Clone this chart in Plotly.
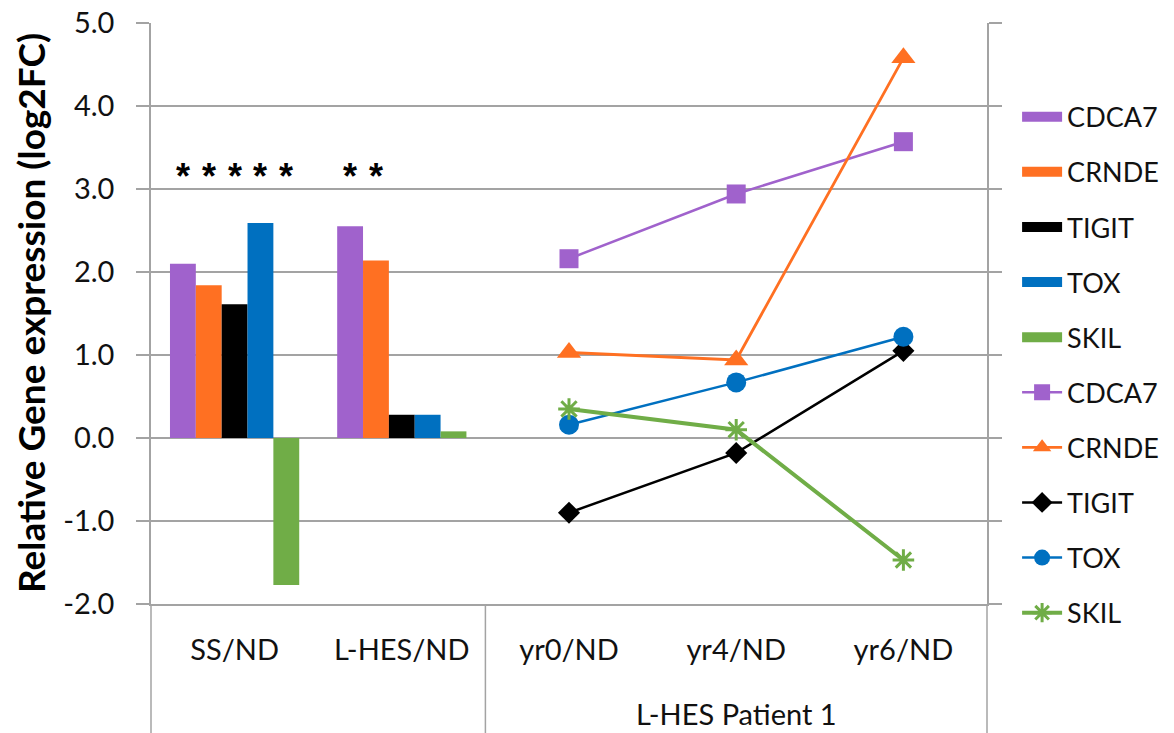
import plotly.graph_objects as go

genes = ["CDCA7", "CRNDE", "TIGIT", "TOX", "SKIL"]
colors = ["#A062CC", "#FF7022", "#000000", "#0070C0", "#70AD47"]

categories = ["SS/ND", "L-HES/ND", "yr0/ND", "yr4/ND", "yr6/ND"]
bar_cats = ["SS/ND", "L-HES/ND"]
bar_values = {
    "CDCA7": [2.10, 2.55],
    "CRNDE": [1.84, 2.14],
    "TIGIT": [1.61, 0.28],
    "TOX":   [2.59, 0.28],
    "SKIL":  [-1.77, 0.08],
}

group_label = "L-HES Patient 1"
line_cats = ["yr0/ND", "yr4/ND", "yr6/ND"]
line_values = {
    "CDCA7": [2.16, 2.94, 3.57],
    "CRNDE": [1.03, 0.94, 4.58],
    "TIGIT": [-0.90, -0.18, 1.05],
    "TOX":   [0.16, 0.67, 1.22],
    "SKIL":  [0.35, 0.10, -1.47],
}
symbols = ["square", "triangle-up", "diamond", "circle", "asterisk-open"]
msizes = [19, 21, 17, 20, 18]
lwidths = [2.5, 2.8, 2.5, 2.5, 4]

y_ticks = [-2, -1, 0, 1, 2, 3, 4, 5]
y_ticktext = ["-2.0", "-1.0", "0.0", "1.0", "2.0", "3.0", "4.0", "5.0"]

# significance stars: bar indices within each group
stars = {"SS/ND": [0, 1, 2, 3, 4], "L-HES/ND": [0, 1]}
star_y = 3.15

FONT = "Lato"
TXT = "#111111"
GRID = "#A3A3A3"

fig = go.Figure()
for i, g in enumerate(genes):
    fig.add_trace(go.Bar(
        x=bar_cats, y=bar_values[g], name=g,
        marker=dict(color=colors[i], line=dict(width=0)),
        legendgroup="b" + g, showlegend=False,
    ))
    # legend swatch (rectangular patch like the original)
    fig.add_trace(go.Scatter(
        x=[None], y=[None], name=g, mode="lines",
        line=dict(color=colors[i], width=20),
        legendgroup="b" + g, showlegend=True, hoverinfo="skip",
    ))
for i, g in enumerate(genes):
    fig.add_trace(go.Scatter(
        x=line_cats, y=line_values[g], name=g,
        mode="lines+markers",
        line=dict(color=colors[i], width=lwidths[i]),
        marker=dict(symbol=symbols[i], size=msizes[i], color=colors[i],
                    line=dict(color=colors[i], width=3 if i == 4 else 0)),
        legendgroup="l" + g,
    ))

bargap = 0.227
bw = (1 - bargap) / len(genes)
ann = []
for cat, idxs in stars.items():
    ci = categories.index(cat)
    for b in idxs:
        ann.append(dict(x=ci + (b - 2) * bw, y=star_y, xref="x", yref="y",
                        text="<b>*</b>", showarrow=False,
                        font=dict(family="Liberation Sans", size=36, color="#000000")))
# group label under yr categories
ann.append(dict(x=categories.index(line_cats[1]), y=-0.188, xref="x", yref="paper",
                text=group_label, showarrow=False, yanchor="middle",
                font=dict(family=FONT, size=29, color=TXT)))
# Y title
ann.append(dict(x=-0.144, y=0.5, xref="paper", yref="paper", textangle=-90,
                text="<b>Relative Gene expression (log2FC)</b>", showarrow=False,
                xanchor="center", yanchor="middle",
                font=dict(family=FONT, size=37, color="#000000")))

n = len(categories)
shapes = []
for boundary in [0, 2, n]:
    xp = boundary / n
    shapes.append(dict(type="line", xref="paper", yref="paper",
                       x0=xp, x1=xp, y0=0, y1=-0.24,
                       line=dict(color=GRID, width=1.5)))

# page body has an 8px margin, so the figure is sized to fit the window
fig.update_layout(
    width=1166, height=725,
    margin=dict(l=143, r=187, t=15, b=129, autoexpand=False),
    paper_bgcolor="white", plot_bgcolor="white",
    barmode="group", bargap=bargap, bargroupgap=0,
    font=dict(family=FONT, size=29, color=TXT),
    showlegend=True,
    legend=dict(x=1.036, y=0.88, xanchor="left", yanchor="top",
                font=dict(family=FONT, size=27, color=TXT),
                tracegroupgap=17, traceorder="grouped",
                itemwidth=40, bgcolor="rgba(0,0,0,0)"),
    annotations=ann,
    shapes=shapes,
)
fig.update_xaxes(
    type="category", categoryorder="array", categoryarray=categories,
    range=[-0.5, n - 0.5], automargin=False,
    showline=True, linecolor=GRID, linewidth=1.5,
    ticks="", showgrid=False,
    tickfont=dict(family=FONT, size=29, color=TXT),
    ticklabelstandoff=19,
)
fig.update_yaxes(
    range=[-2, 5], tickmode="array", tickvals=y_ticks, ticktext=y_ticktext,
    automargin=False,
    showgrid=True, gridcolor=GRID, gridwidth=1.5,
    zeroline=False,
    showline=True, linecolor=GRID, linewidth=1.5, mirror="ticks",
    ticks="outside", ticklen=13, tickcolor=GRID, tickwidth=1.5,
    ticklabelstandoff=16, ticklabeloverflow="allow",
    tickfont=dict(family=FONT, size=29, color=TXT),
)

fig.write_html("out.html")
